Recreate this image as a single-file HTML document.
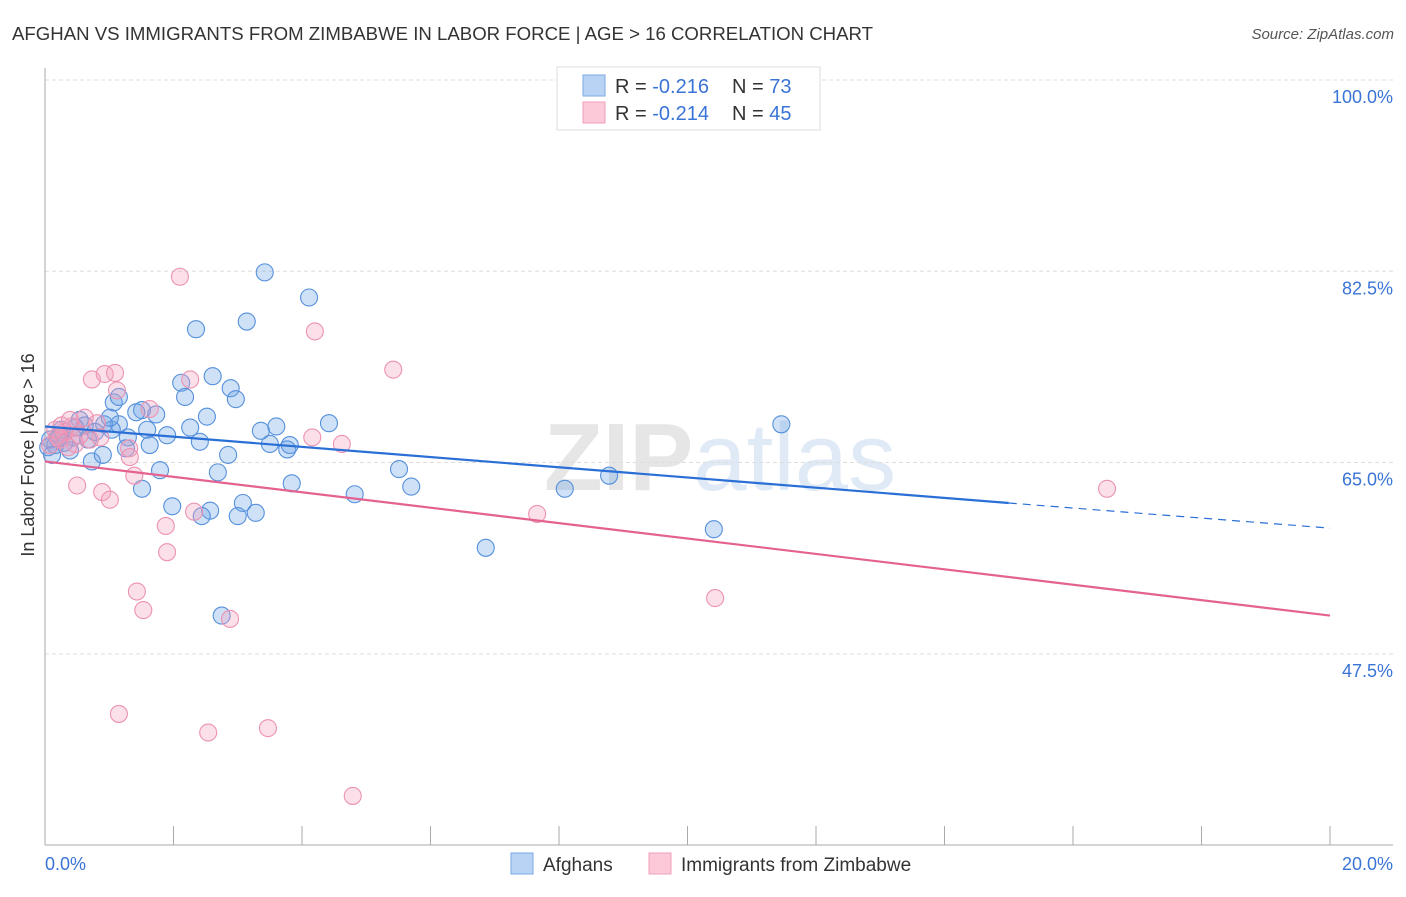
<!DOCTYPE html>
<html><head><meta charset="utf-8">
<style>
body{margin:0;background:#fff;font-family:"Liberation Sans",sans-serif;}
svg text{font-family:"Liberation Sans",sans-serif;}
</style></head>
<body>
<svg id="chart" width="1406" height="892" xmlns="http://www.w3.org/2000/svg">
<text x="12" y="40" font-size="18" fill="#333" textLength="861" lengthAdjust="spacingAndGlyphs">AFGHAN VS IMMIGRANTS FROM ZIMBABWE IN LABOR FORCE | AGE &gt; 16 CORRELATION CHART</text>
<text x="1394" y="39" font-size="15" fill="#555" font-style="italic" text-anchor="end">Source: ZipAtlas.com</text>
<text x="720" y="490" font-size="96" fill="#ececec" text-anchor="middle" font-family="Liberation Serif"><tspan font-weight="bold" fill="#e6e6e6">ZIP</tspan><tspan font-family="Liberation Sans" fill="#e0eaf6">atlas</tspan></text>
<text transform="translate(34,455) rotate(-90)" font-size="18" fill="#333" text-anchor="middle">In Labor Force | Age &gt; 16</text>
<g id="grid"></g><g id="marks"></g>
<g>
<rect x="557" y="67" width="263" height="63" fill="#fff" stroke="#ddd"/>
<rect x="583" y="75" width="22" height="21" fill="#b9d3f4" stroke="#7aa8e6"/>
<rect x="583" y="102" width="22" height="21" fill="#fbc9d8" stroke="#f0a0bb"/>
<text x="615" y="93" font-size="20" fill="#333">R = <tspan fill="#3a74d6">-0.216</tspan><tspan x="732">N = </tspan><tspan fill="#3a74d6">73</tspan></text>
<text x="615" y="120" font-size="20" fill="#333">R = <tspan fill="#3a74d6">-0.214</tspan><tspan x="732">N = </tspan><tspan fill="#3a74d6">45</tspan></text>
</g>
<g>
<rect x="511" y="853" width="22" height="21" fill="#b9d3f4" stroke="#7aa8e6"/>
<text x="543" y="871" font-size="19" fill="#333">Afghans</text>
<rect x="649" y="853" width="22" height="21" fill="#fbc9d8" stroke="#f0a0bb"/>
<text x="681" y="871" font-size="19" fill="#333">Immigrants from Zimbabwe</text>
</g>
</svg>
<script>
const yTicks=[100,82.5,65,47.5];
const yTickLabels=["100.0%","82.5%","65.0%","47.5%"];
const xTicks=[0,2,4,6,8,10,12,14,16,18,20];
const xTickLabels=["0.0%","20.0%"];
const afghanX=[3.42,4.11,2.35,3.14,2.61,2.12,2.89,2.18,2.97,1.07,1.15,1.51,1.42,1.73,2.52,4.42,11.46,3.60,3.36,2.26,1.15,0.92,0.54,1.59,1.90,1.29,1.63,2.41,3.50,3.81,3.77,0.44,0.23,0.39,0.73,0.90,2.85,1.79,2.69,5.51,3.84,4.82,5.70,1.51,8.09,8.78,3.08,1.98,2.57,2.44,3.00,3.28,6.86,10.41,2.75,0.08,0.16,0.20,0.62,1.04,1.26,0.67,0.30,0.05,0.11,0.78,1.01,0.47,0.26];
const afghanY=[82.4,80.1,77.2,77.9,72.9,72.3,71.8,71.0,70.8,70.5,71.0,69.8,69.6,69.4,69.2,68.6,68.5,68.3,67.9,68.2,68.5,68.5,68.9,68.0,67.5,67.3,66.6,66.9,66.7,66.6,66.2,67.3,67.4,66.1,65.1,65.7,65.7,64.3,64.1,64.4,63.1,62.1,62.8,62.6,62.6,63.8,61.3,61.0,60.6,60.1,60.1,60.4,57.2,58.9,51.0,67.1,66.6,67.2,68.4,68.0,66.3,67.1,66.8,66.4,65.7,67.8,69.1,68.2,68.0];
const zimX=[2.10,4.20,5.42,0.73,0.93,1.09,1.12,2.26,1.63,0.62,0.81,0.42,0.31,0.19,0.23,0.08,0.36,0.47,1.31,1.32,0.50,0.89,1.01,1.39,4.16,4.62,1.88,2.32,1.90,7.66,16.53,1.43,1.53,2.88,10.43,1.15,2.54,3.47,4.79,0.70,0.86,0.16,0.54,0.26,0.39];
const zimY=[82.0,77.0,73.5,72.6,73.1,73.2,71.6,72.6,69.9,69.1,68.6,68.3,67.8,67.4,67.1,66.6,66.4,66.7,66.3,65.5,62.9,62.3,61.6,63.8,67.3,66.7,59.2,60.5,56.8,60.3,62.6,53.2,51.5,50.7,52.6,42.0,40.3,40.7,34.5,67.1,67.3,68.0,67.5,68.4,68.9];
const afghanTrend=[68.3,61.3,59.0]; // at x=0, 15, 20
const zimTrend=[65.1,51.0]; // at x=0, 20
const NS="http://www.w3.org/2000/svg";
const X=v=>45+v*64.25;
const Y=v=>80+(100-v)*10.93;
function mk(tag,attrs,parent){const e=document.createElementNS(NS,tag);for(const k in attrs)e.setAttribute(k,attrs[k]);parent.appendChild(e);return e;}
const grid=document.getElementById('grid'),marks=document.getElementById('marks');
yTicks.forEach((t,i)=>{
 const l=mk('line',{x1:45,x2:1393,y1:Y(t),y2:Y(t),stroke:'#ddd','stroke-dasharray':'4 3'},grid);
 
 
 const tx=mk('text',{x:1393,y:Y(t)+23,'font-size':18,fill:'#3a74d6','text-anchor':'end'},grid);
 tx.textContent=yTickLabels[i];
 
 
});
const ax=mk('line',{x1:45,x2:45,y1:68,y2:845,stroke:'#aaa'},grid);


const bx=mk('line',{x1:45,x2:1393,y1:845,y2:845,stroke:'#aaa'},grid);


xTicks.forEach(t=>{
 const l=mk('line',{x1:X(t),x2:X(t),y1:826,y2:845,stroke:'#aaa'},grid);
 
 
});
[[0,'start',0],[20,'end',63]].forEach((p,i)=>{
 const tx=mk('text',{x:X(p[0])+p[2],y:870,'font-size':18,fill:'#3a74d6','text-anchor':p[1]},grid);
 tx.textContent=xTickLabels[i];
 
 
});
afghanX.forEach((x,i)=>{
 const c=mk('circle',{cx:X(x),cy:Y(afghanY[i]),r:8.5,fill:'rgba(110,165,232,0.33)',stroke:'#5590dc','stroke-width':1.1},marks);
 
 
});
zimX.forEach((x,i)=>{
 const c=mk('circle',{cx:X(x),cy:Y(zimY[i]),r:8.5,fill:'rgba(244,160,188,0.33)',stroke:'#ec92b2','stroke-width':1.1},marks);
 
 
});
const t1=mk('line',{x1:X(0),y1:Y(afghanTrend[0]),x2:X(15),y2:Y(afghanTrend[1]),stroke:'#2a6fd6','stroke-width':2.2},marks);


const t2=mk('line',{x1:X(15),y1:Y(afghanTrend[1]),x2:X(20),y2:Y(afghanTrend[2]),stroke:'#2a6fd6','stroke-width':1.2,'stroke-dasharray':'8 6'},marks);


const t3=mk('line',{x1:X(0),y1:Y(zimTrend[0]),x2:X(20),y2:Y(zimTrend[1]),stroke:'#e4628f','stroke-width':2.2},marks);


</script>
</body></html>
